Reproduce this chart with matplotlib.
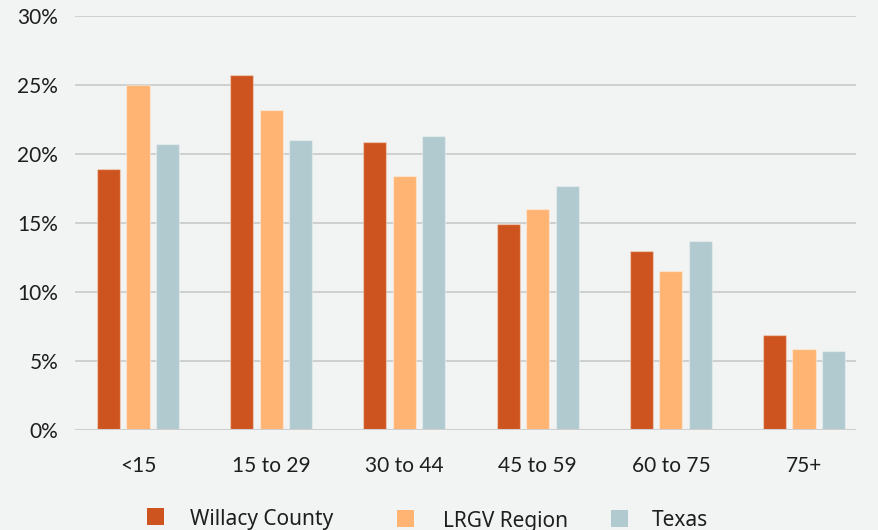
#!/usr/bin/env python3
import matplotlib
matplotlib.use('Agg')
import matplotlib.pyplot as plt
from matplotlib.patches import Rectangle
import numpy as np

# Age distribution by group (percent of population)
age_groups = ['<15', '15 to 29', '30 to 44', '45 to 59', '60 to 75', '75+']
willacy = [18.9, 25.7, 20.9, 14.9, 13.0, 6.9]
lrgv = [25.0, 23.2, 18.4, 16.0, 11.5, 5.9]
texas = [20.7, 21.0, 21.3, 17.7, 13.7, 5.7]
series_names = ['Willacy County', 'LRGV Region', 'Texas']

colors = ['#cd541e', '#ffb473', '#b0cacf']
bg = '#f2f3f3'
txt = '#1e1e1e'

W, H = 879, 530

plt.rcParams['font.family'] = ['Lato', 'DejaVu Sans']

fig = plt.figure(figsize=(W / 100, H / 100), dpi=100, facecolor=bg)
ax = fig.add_axes([0.0853, 0.1887, 0.8885, 0.7811], facecolor=bg)

ind = np.arange(len(age_groups))
width = 0.173
step = 0.221

for i, vals in enumerate([willacy, lrgv, texas]):
    ax.bar(ind + (i - 1) * step, vals, width, color=colors[i],
           edgecolor=(1, 1, 1, 0.35), linewidth=1, zorder=3,
           label=series_names[i])

ax.set_ylim(0, 30)
ax.set_xlim(-0.473, 5.39)
ax.set_yticks(np.arange(0, 31, 5))
ax.set_yticklabels(['{}%'.format(v) for v in range(0, 31, 5)])
ax.set_xticks(ind)
ax.set_xticklabels(age_groups)

ax.grid(axis='y', color='#c9c9c9', linewidth=1.2, zorder=0)
ax.axhline(0, color='#cfcfcf', linewidth=2.2, zorder=4)
for s in ax.spines.values():
    s.set_visible(False)
ax.tick_params(axis='both', length=0, labelsize=15, colors=txt)
ax.tick_params(axis='y', pad=12)
ax.tick_params(axis='x', pad=19)

# legend entries laid out by hand along the bottom edge (pixel positions)
marker_x = [147, 397, 611]
marker_top = [508, 510, 510]
label_x = [190, 443, 652]
label_base = [524.5, 526.5, 526.5]
box = 17
for i, name in enumerate(series_names):
    fig.add_artist(Rectangle((marker_x[i] / W, 1 - (marker_top[i] + box) / H),
                             box / W, box / H, transform=fig.transFigure,
                             facecolor=colors[i], edgecolor='none'))
    fig.text(label_x[i] / W, 1 - label_base[i] / H, name, ha='left',
             va='baseline', fontsize=15, color=txt,
             family=['Noto Sans', 'DejaVu Sans'])

fig.savefig('out.png', dpi=100, facecolor=bg)
